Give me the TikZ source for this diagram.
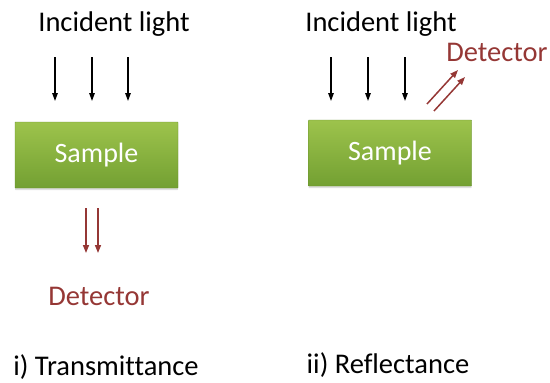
\documentclass[tikz,border=0pt]{standalone}
\usepackage{fontspec}
\setmainfont{Carlito}[Ligatures=NoCommon]
\usetikzlibrary{arrows.meta,positioning,calc,shadows}
\definecolor{detred}{HTML}{953735}
\definecolor{greentop}{HTML}{9DC34C}
\definecolor{greenbot}{HTML}{73A032}

\begin{document}
\begin{tikzpicture}[
  x=1pt,y=-1pt,
  samplebox/.style={rounded corners=0.5pt,top color=greentop,bottom color=greenbot,
              draw=greenbot!90!black,line width=0.4pt,
              minimum width=163pt,minimum height=66pt,
              text=white,font=\fontsize{28}{32}\selectfont,
              drop shadow={shadow xshift=0pt,shadow yshift=-2pt,opacity=0.25}},
  lbl/.style={font=\fontsize{28.5}{32}\selectfont,inner sep=0pt},
  inray/.style={line width=1.4pt,-{Triangle[length=8pt,width=5.5pt]}},
  outray/.style={detred,line width=1.5pt,-{Triangle[length=8pt,width=6pt]}}
]
\useasboundingbox (0,0) rectangle (550,383);

% transmittance
\node[lbl] (incidentT) at (114,24) {Incident light};
\node[samplebox] (sampleT) at (96.5,155) {Sample};
\foreach \i/\xx in {1/55,2/92,3/128}{
  \coordinate (inT\i) at (\xx,57);
  \coordinate (hitT\i) at (\xx,101);
  \draw[inray] (inT\i) -- (hitT\i);
}
\node[lbl,text=detred] (detT) at (99,296) {Detector};
\foreach \i/\xx in {a/86,b/98}{
  \coordinate (outT\i) at (\xx,208);
  \coordinate (endT\i) at (\xx,253);
  \draw[outray] (outT\i) -- (endT\i);
}
\node[lbl] (titleT) at (106,367) {i) Transmittance};

% reflectance
\node[lbl] (incidentR) at (381,24) {Incident light};
\node[samplebox] (sampleR) at (390,153) {Sample};
\foreach \i/\xx in {1/331,2/368,3/405}{
  \coordinate (inR\i) at (\xx,57);
  \coordinate (hitR\i) at (\xx,101);
  \draw[inray] (inR\i) -- (hitR\i);
}
\node[lbl,text=detred] (detR) at (497,52) {Detector};
\coordinate (outRa) at (427,104);
\coordinate (endRa) at (458,70);
\coordinate (outRb) at (434,111);
\coordinate (endRb) at (465,77);
\draw[outray] (outRa) -- (endRa);
\draw[outray] (outRb) -- (endRb);
\node[lbl] (titleR) at (388,365) {ii) Reflectance};
\end{tikzpicture}
\end{document}
